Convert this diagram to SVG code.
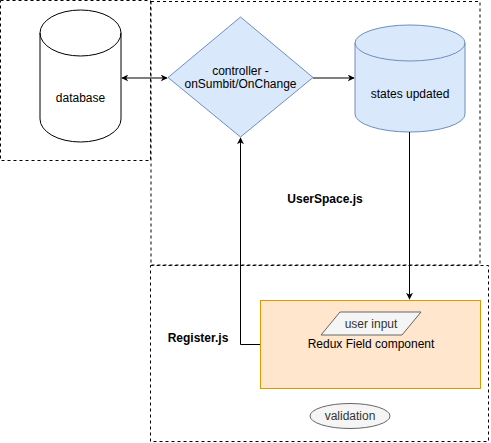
<svg xmlns="http://www.w3.org/2000/svg" width="491" height="443" viewBox="0 0 491 443">
<style>
.frame{fill:none;stroke:#000;stroke-dasharray:3 3}
.t{font-family:"Liberation Sans",Arial,sans-serif;font-size:12px;text-anchor:middle;dominant-baseline:central}
.b{font-weight:bold}
.conn{fill:none;stroke:#000;stroke-width:1}
</style>
<defs>
<marker id="ah" viewBox="0 0 10 10" refX="9" refY="5" markerWidth="7" markerHeight="7" orient="auto-start-reverse" markerUnits="userSpaceOnUse">
<path d="M0,0 L10,5 L0,10 L3,5 Z" fill="#000"/>
</marker>
</defs>
<g id="frames">
<rect class="frame" x="0.5" y="0.5" width="150" height="160"/>
<rect class="frame" x="151" y="1.5" width="329" height="263.5"/>
<rect class="frame" x="150.5" y="265.5" width="338" height="176"/>
</g>
<g id="database">
<path d="M40,33 A40.5,23 0 0 1 121,33 L121,119 A40.5,23 0 0 1 40,119 Z" fill="#fff" stroke="#000"/>
<path d="M40,33 A40.5,23 0 0 0 121,33" fill="none" stroke="#000"/>
<text class="t" x="80.5" y="98">database</text>
</g>
<g id="controller">
<polygon points="240.5,17 313,77.5 240.5,137 168,77.5" fill="#dae8fc" stroke="#6c8ebf"/>
<text class="t" x="240.5" y="71">controller -</text>
<text class="t" x="240.5" y="84">onSumbit/OnChange</text>
</g>
<g id="states">
<path d="M355,43 A55,18 0 0 1 465,43 L465,114 A55,18 0 0 1 355,114 Z" fill="#dae8fc" stroke="#6c8ebf"/>
<path d="M355,43 A55,18 0 0 0 465,43" fill="none" stroke="#6c8ebf"/>
<text class="t" x="410" y="94">states updated</text>
</g>
<g id="redux">
<rect x="260.5" y="300.5" width="220" height="88" fill="#ffe6cc" stroke="#d79b00"/>
<text class="t" x="371" y="344">Redux Field component</text>
</g>
<g id="userinput">
<polygon points="340,312 421,312 402,335 321,335" fill="#f5f5f5" stroke="#666666"/>
<text class="t" x="371" y="323.5" fill="#333">user input</text>
</g>
<g id="validation">
<ellipse cx="350" cy="416" rx="40" ry="12.5" fill="#f5f5f5" stroke="#666666"/>
<text class="t" x="350" y="416" fill="#333">validation</text>
</g>
<g id="labels">
<text class="t b" x="325" y="199">UserSpace.js</text>
<text class="t b" x="198" y="338">Register.js</text>
</g>
<g id="connectors">
<line class="conn" x1="122" y1="78" x2="167" y2="78" marker-start="url(#ah)" marker-end="url(#ah)"/>
<line class="conn" x1="313" y1="78" x2="354" y2="78" marker-end="url(#ah)"/>
<line class="conn" x1="409.5" y1="132" x2="409.5" y2="299" marker-end="url(#ah)"/>
<polyline class="conn" points="260,344.5 240.5,344.5 240.5,138" marker-end="url(#ah)"/>
</g>
</svg>
